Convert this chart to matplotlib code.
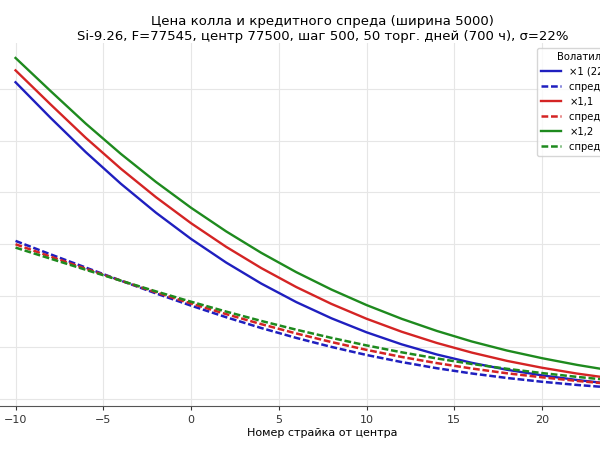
import matplotlib
matplotlib.use("Agg")
import matplotlib.pyplot as plt

# strike number relative to centre (77500, step 500)
strikes = [-10, -8, -6, -4, -2, 0, 2, 4, 6, 8, 10, 12, 14, 16, 18, 20, 22, 24]

# call prices, rub
call_x1 = [6130, 5440, 4778, 4166, 3606, 3098, 2641, 2234, 1875, 1562, 1291, 1058,
           862, 700, 566, 458, 368, 292]
call_x11 = [6360, 5700, 5055, 4457, 3906, 3402, 2945, 2534, 2166, 1840, 1553, 1302,
            1085, 898, 738, 605, 492, 398]
call_x12 = [6600, 5959, 5330, 4744, 4201, 3701, 3244, 2829, 2454, 2118, 1818, 1552,
            1318, 1113, 938, 790, 660, 548]

# credit spread (width 5000), rub
spread_x1 = [3060, 2799, 2544, 2291, 2044, 1807, 1583, 1374, 1182, 1008, 852, 715,
             596, 494, 407, 334, 272, 220]
spread_x11 = [2995, 2755, 2521, 2291, 2066, 1849, 1643, 1449, 1268, 1102, 951, 814,
              695, 590, 498, 420, 350, 290]
spread_x12 = [2930, 2715, 2501, 2290, 2083, 1883, 1692, 1511, 1341, 1183, 1037, 904,
              785, 678, 585, 502, 428, 362]

labels = ["×1 (22%)", "спред ×1 (22%)", "×1,1", "спред ×1,1",
          "×1,2", "спред ×1,2"]

fig = plt.figure(figsize=(6, 4.5), dpi=100)
ax = fig.add_axes([-0.0253, 0.0978, 1.1262, 0.8067])

dash = (2.7, 1.1)
ax.plot(strikes, call_x1, color="#1f1fbf", lw=1.7, label=labels[0])
ax.plot(strikes, spread_x1, color="#1f1fbf", lw=1.8, ls="--", dashes=dash, label=labels[1])
ax.plot(strikes, call_x11, color="#d42424", lw=1.7, label=labels[2])
ax.plot(strikes, spread_x11, color="#d42424", lw=1.8, ls="--", dashes=dash, label=labels[3])
ax.plot(strikes, call_x12, color="#1e8a1e", lw=1.7, label=labels[4])
ax.plot(strikes, spread_x12, color="#1e8a1e", lw=1.8, ls="--", dashes=dash, label=labels[5])

ax.set_xlim(-11.75, 26.75)
ax.set_ylim(-135, 6890)
ax.set_xticks([-10, -5, 0, 5, 10, 15, 20, 25])
ax.set_yticks([0, 1000, 2000, 3000, 4000, 5000, 6000])
ax.grid(True, color="#e6e6e6", lw=0.8)
ax.tick_params(labelsize=8, colors="#333333", length=3)
for s in ["top", "right"]:
    ax.spines[s].set_visible(False)
ax.spines["bottom"].set_color("#555555")

ax.set_xlabel("Номер страйка от центра", fontsize=8, labelpad=2)
ax.set_title("Цена колла и кредитного спреда (ширина 5000)\n"
             "Si-9.26, F=77545, центр 77500, шаг 500, 50 торг. дней (700 ч), σ=22%",
             fontsize=9.5, pad=2.4)
ax.legend(title="Волатильность", fontsize=7.2, title_fontsize=7.2, loc="upper right")

fig.savefig("out.png", dpi=100)
